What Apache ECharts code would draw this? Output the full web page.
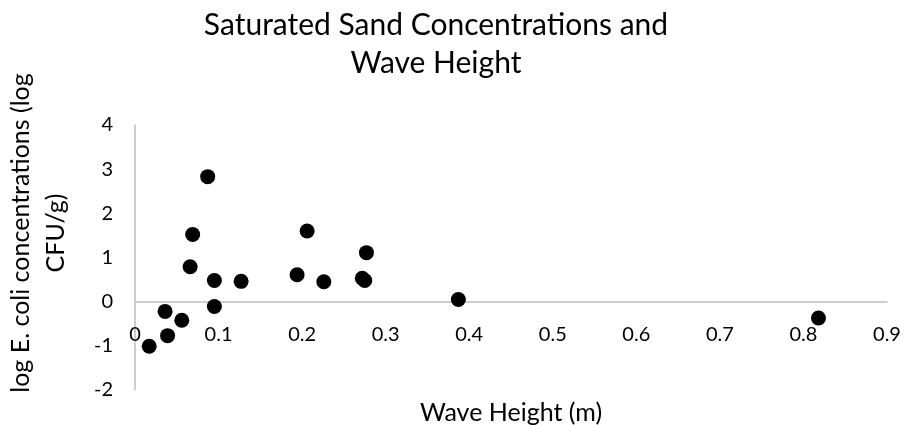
<!DOCTYPE html>
<html>
<head>
<meta charset="utf-8">
<script src="https://cdn.jsdelivr.net/npm/echarts@6/dist/echarts.min.js"></script>
<style>
  html, body { margin: 0; padding: 0; background: #fff; }
  #chart { width: 916px; height: 425px; }
</style>
</head>
<body>
<div id="chart"></div>
<script>
// wave height (m) and log E. coli concentration (log CFU/g)
var waveHeight = [0.087, 0.069, 0.066, 0.095, 0.127, 0.095, 0.036, 0.056, 0.039, 0.017,
                  0.194, 0.206, 0.226, 0.272, 0.275, 0.277, 0.387, 0.818];
var logEcoli = [2.83, 1.52, 0.79, 0.48, 0.46, -0.11, -0.22, -0.42, -0.77, -1.01,
                0.61, 1.60, 0.45, 0.53, 0.48, 1.11, 0.05, -0.37];

var points = waveHeight.map(function (x, i) { return [x, logEcoli[i]]; });

var fontFamily = 'Lato, "Open Sans", sans-serif';
var textColor = '#000';
var axisColor = '#bfbfbf';

var myChart = echarts.init(document.getElementById('chart'));
myChart.setOption({
    animation: false,
    textStyle: { fontFamily: fontFamily },
    title: {
        text: 'Saturated Sand Concentrations and\nWave Height',
        left: 431,
        top: 1,
        textAlign: 'center',
        textStyle: {
            fontFamily: fontFamily,
            fontSize: 30,
            fontWeight: 'normal',
            color: textColor,
            lineHeight: 38
        }
    },
    grid: { left: 135, right: 29, top: 125, bottom: 35, containLabel: false, outerBoundsMode: 'none' },
    xAxis: {
        type: 'value',
        min: 0,
        max: 0.9,
        interval: 0.1,
        name: 'Wave Height (m)',
        nameLocation: 'middle',
        nameGap: 10,
        nameTextStyle: { fontSize: 25, color: textColor, fontFamily: fontFamily },
        axisLine: { onZero: true, lineStyle: { color: axisColor, width: 1.5 } },
        axisTick: { show: false },
        splitLine: { show: false },
        axisLabel: {
            fontSize: 20,
            color: textColor,
            margin: -65,
            formatter: function (v) { return String(+v.toFixed(1)); }
        }
    },
    yAxis: {
        type: 'value',
        min: -2,
        max: 4,
        interval: 1,
        name: 'log E. coli concentrations (log\nCFU/g)',
        nameLocation: 'middle',
        nameRotate: 90,
        nameGap: 62,
        nameTextStyle: {
            fontSize: 25,
            color: textColor,
            fontFamily: fontFamily,
            lineHeight: 35,
            padding: [0, 0, 0, 49]
        },
        axisLine: { show: true, onZero: false, lineStyle: { color: axisColor, width: 1.5 } },
        axisTick: { show: false },
        splitLine: { show: false },
        axisLabel: { fontSize: 20, color: textColor, margin: 22 }
    },
    series: [{
        type: 'scatter',
        data: points,
        symbol: 'circle',
        symbolSize: 15,
        itemStyle: { color: '#000', opacity: 1 }
    }]
});
</script>
</body>
</html>
